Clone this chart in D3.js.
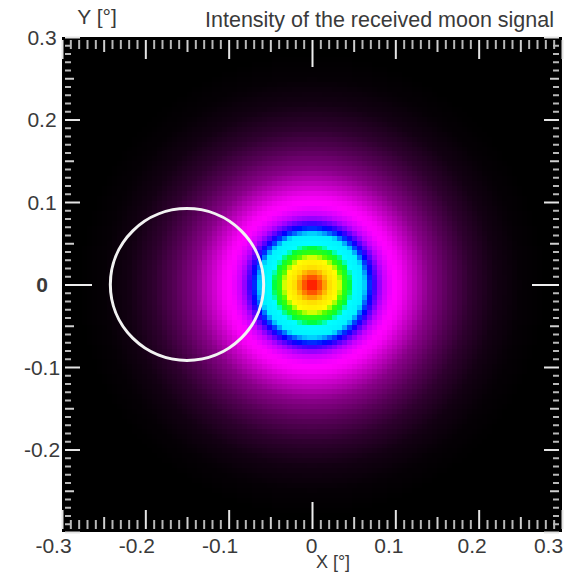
<!DOCTYPE html>
<html>
<head>
<meta charset="utf-8">
<script src="https://cdn.jsdelivr.net/npm/d3@7"></script>
<style>
  html, body { margin: 0; padding: 0; background: #ffffff; }
  svg { display: block; }
  text { font-family: "Liberation Sans", Arial, sans-serif; fill: #3a3a3a; }
</style>
</head>
<body>
<svg id="chart" width="564" height="572"></svg>
<script>
// ---- data ----
const title = "Intensity of the received moon signal";
const xAxisTitle = "X [°]";
const yAxisTitle = "Y [°]";
const xDomain = [-0.3, 0.3];
const yDomain = [-0.3, 0.3];
const xTickValues = [-0.3, -0.2, -0.1, 0, 0.1, 0.2, 0.3];
const xTickLabels = ["-0.3", "-0.2", "-0.1", "0", "0.1", "0.2", "0.3"];
const yTickValues = [-0.2, -0.1, 0, 0.1, 0.2, 0.3];
const yTickLabels = ["-0.2", "-0.1", "0", "0.1", "0.2", "0.3"];
// radial intensity profile of the beam (distance from centre in degrees -> colour level)
const profileRadius = [0, 0.008, 0.018, 0.022, 0.032, 0.037, 0.045, 0.049, 0.062, 0.071, 0.082, 0.095, 0.107, 0.12, 0.14, 0.165, 0.19, 0.22, 0.25, 0.28, 0.5];
const profileLevel  = [1.0, 0.95, 0.85, 0.82, 0.76, 0.70, 0.66, 0.60, 0.54, 0.46, 0.38, 0.31, 0.285, 0.235, 0.16, 0.10, 0.055, 0.022, 0.006, 0, 0];
const beamCenter = [0, 0];
const gridStep = 0.006;
// colour table
const colorLevels = [0, 0.30, 0.36, 0.42, 0.46, 0.50, 0.54, 0.60, 0.66, 0.70, 0.76, 0.82, 0.90, 1.0];
const colorStops  = ["#000000", "#ff00ff", "#c800ff", "#5a00ff", "#0000ff", "#0064ff", "#00f0ff",
                     "#00ffff", "#00ff3c", "#3cff00", "#ffff00", "#ffe600", "#ff8200", "#ff0000"];
// moon outline
const moonCenter = [-0.15, 0];
const moonRadius = 0.092;

// ---- layout ----
const svg = d3.select("#chart");
const x = d3.scaleLinear().domain(xDomain).range([62, 562]);
const y = d3.scaleLinear().domain(yDomain).range([532, 37]);
const color = d3.scaleLinear().domain(colorLevels).range(colorStops).interpolate(d3.interpolateRgb);
const profile = d3.scaleLinear().domain(profileRadius).range(profileLevel).clamp(true);

svg.append("defs").append("clipPath").attr("id", "plotclip")
  .append("rect").attr("x", x(xDomain[0])).attr("y", y(yDomain[1]))
  .attr("width", x(xDomain[1]) - x(xDomain[0])).attr("height", y(yDomain[0]) - y(yDomain[1]));

const plot = svg.append("g").attr("clip-path", "url(#plotclip)");
plot.append("rect").attr("x", x(xDomain[0])).attr("y", y(yDomain[1]))
  .attr("width", x(xDomain[1]) - x(xDomain[0])).attr("height", y(yDomain[0]) - y(yDomain[1]))
  .attr("fill", "#000");

// heatmap cells
const nx = Math.round((xDomain[1] - xDomain[0]) / gridStep);
const ny = Math.round((yDomain[1] - yDomain[0]) / gridStep);
const cells = [];
for (let j = 0; j < ny; j++) {
  for (let i = 0; i < nx; i++) {
    const x0 = xDomain[0] + i * gridStep, y0 = yDomain[0] + j * gridStep;
    const cx = x0 + gridStep / 2, cy = y0 + gridStep / 2;
    const r = Math.hypot(cx - beamCenter[0], cy - beamCenter[1]);
    cells.push({x0, y0, v: profile(r)});
  }
}
plot.append("g").attr("shape-rendering", "crispEdges")
  .selectAll("rect").data(cells).join("rect")
  .attr("x", d => x(d.x0))
  .attr("y", d => y(d.y0 + gridStep))
  .attr("width", d => x(d.x0 + gridStep) - x(d.x0) + 0.6)
  .attr("height", d => y(d.y0) - y(d.y0 + gridStep) + 0.6)
  .attr("fill", d => color(d.v));

// moon circle
plot.append("ellipse")
  .attr("cx", x(moonCenter[0])).attr("cy", y(moonCenter[1]))
  .attr("rx", x(moonCenter[0] + moonRadius) - x(moonCenter[0]))
  .attr("ry", y(moonCenter[1]) - y(moonCenter[1] + moonRadius))
  .attr("fill", "none").attr("stroke", "#f2f2f2").attr("stroke-width", 3);

// ---- tick marks (inward) ----
const allTicks = d3.range(-30, 31).map(i => ({i, v: i / 100}));
function tickClass(i) {
  if (i === 0) return "zero";
  if (i % 10 === 0) return "major";
  if (i % 5 === 0) return "medium";
  return "minor";
}
const hLen = {minor: 9, medium: 12, major: 19, zero: 27};
const vLen = {minor: 6, medium: 9, major: 15, zero: 27};
const tickColor = {minor: "#b8b8b8", medium: "#cfcfcf", major: "#e4e4e4", zero: "#eeeeee"};
const inset = 3;

["minor", "medium", "major", "zero"].forEach(cls => {
  const vals = allTicks.filter(t => tickClass(t.i) === cls).map(t => t.v);
  const styleAxis = g => {
    g.select(".domain").remove();
    g.selectAll("line").attr("stroke", tickColor[cls]).attr("stroke-width", 2);
    g.selectAll("text").remove();
  };
  svg.append("g").attr("transform", `translate(0,${y(yDomain[0]) - inset})`)
    .call(d3.axisBottom(x).tickValues(vals).tickSize(-hLen[cls]).tickFormat("")).call(styleAxis);
  svg.append("g").attr("transform", `translate(0,${y(yDomain[1]) + inset})`)
    .call(d3.axisTop(x).tickValues(vals).tickSize(-hLen[cls]).tickFormat("")).call(styleAxis);
  svg.append("g").attr("transform", `translate(${x(xDomain[0]) + inset},0)`)
    .call(d3.axisLeft(y).tickValues(vals).tickSize(-vLen[cls]).tickFormat("")).call(styleAxis);
  svg.append("g").attr("transform", `translate(${x(xDomain[1]) - inset},0)`)
    .call(d3.axisRight(y).tickValues(vals).tickSize(-vLen[cls]).tickFormat("")).call(styleAxis);
});

// ---- tick labels ----
const xLab = svg.append("g").attr("transform", `translate(0,${y(yDomain[0])})`)
  .call(d3.axisBottom(x).tickValues(xTickValues).tickSize(0)
        .tickFormat((d, i) => xTickLabels[i]));
xLab.select(".domain").remove();
xLab.selectAll("text")
  .attr("y", 21).attr("dy", 0)
  .attr("dx", d => d === 0 ? -1 : (d < 0 ? -9 : (d > 0.25 ? -14 : -7)))
  .style("font-size", "21px").style("font-family", "'Liberation Sans', Arial, sans-serif")
  .attr("fill", "#3a3a3a");

const yLab = svg.append("g").attr("transform", `translate(42,0)`)
  .call(d3.axisLeft(y).tickValues(yTickValues).tickSize(0)
        .tickFormat((d, i) => yTickLabels[i]));
yLab.select(".domain").remove();
yLab.selectAll("text")
  .attr("x", 0).attr("dy", 0).attr("y", 7)
  .attr("text-anchor", "middle")
  .style("font-size", "21px").style("font-family", "'Liberation Sans', Arial, sans-serif")
  .style("font-weight", d => d === 0 ? "bold" : "normal")
  .attr("fill", "#3a3a3a");

// ---- titles ----
svg.append("text").attr("x", 554).attr("y", 27).attr("text-anchor", "end")
  .style("font-size", "21.5px").attr("fill", "#444").text(title);
svg.append("text").attr("x", 97).attr("y", 24).attr("text-anchor", "middle")
  .style("font-size", "21px").attr("fill", "#444").text(yAxisTitle);
svg.append("text").attr("x", 333).attr("y", 568).attr("text-anchor", "middle")
  .style("font-size", "18px").attr("fill", "#444").text(xAxisTitle);
</script>
</body>
</html>
